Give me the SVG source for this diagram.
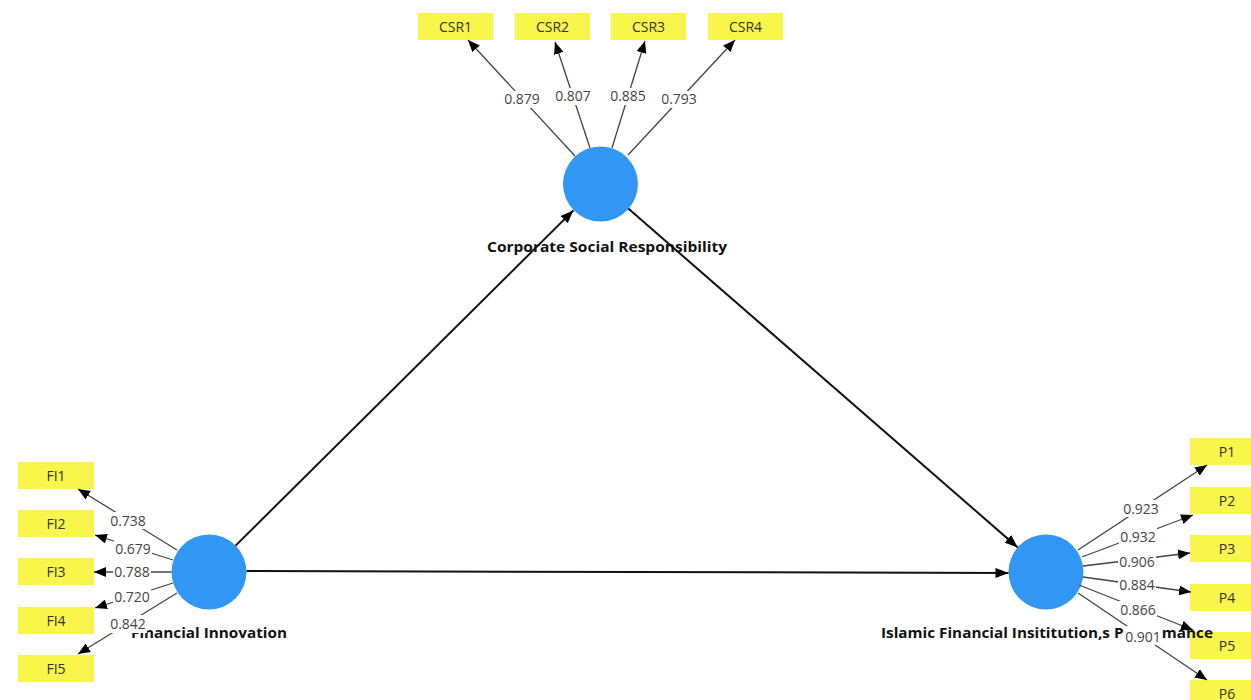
<svg xmlns="http://www.w3.org/2000/svg" width="1251" height="700" viewBox="0 0 1251 700">
<style>
  .lv { fill: #3296f5; }
  .ind rect { fill: #f8f54b; }
  .ind text { font-family: "Open Sans", "Liberation Sans", sans-serif; font-size: 14px; fill: #333; text-anchor: middle; }
  .nl { font-family: "Open Sans", "Liberation Sans", sans-serif; font-size: 15px; font-weight: bold; fill: #111; text-anchor: middle; }
  .ld { stroke: #444; stroke-width: 1.3; fill: none; marker-end: url(#ah); }
  .pa { stroke: #111; stroke-width: 2; fill: none; marker-end: url(#ahb); }
  .lb rect { fill: #fff; }
  .lb text { font-family: "Open Sans", "Liberation Sans", sans-serif; font-size: 14px; fill: #444; text-anchor: middle; }
</style>
<defs>
  <marker id="ah" viewBox="0 0 12 10" refX="12" refY="5" markerWidth="12" markerHeight="10" markerUnits="userSpaceOnUse" orient="auto">
    <path d="M0,0 L12,5 L0,10 z" fill="#000"/>
  </marker>
  <marker id="ahb" viewBox="0 0 13 10" refX="13" refY="5" markerWidth="13" markerHeight="10" markerUnits="userSpaceOnUse" orient="auto">
    <path d="M0,0 L13,5 L0,10 z" fill="#000"/>
  </marker>
</defs>
<rect width="1251" height="700" fill="#fff"/>

<!-- indicators -->
<g id="CSR1" class="ind"><rect x="418" y="13" width="75" height="27"/><text x="455.5" y="32">CSR1</text></g>
<g id="CSR2" class="ind"><rect x="515" y="13" width="75" height="27"/><text x="552.5" y="32">CSR2</text></g>
<g id="CSR3" class="ind"><rect x="611" y="13" width="75" height="27"/><text x="648.5" y="32">CSR3</text></g>
<g id="CSR4" class="ind"><rect x="708" y="13" width="75" height="27"/><text x="745.5" y="32">CSR4</text></g>

<g id="FI1" class="ind"><rect x="18" y="462" width="76" height="27"/><text x="56" y="481">FI1</text></g>
<g id="FI2" class="ind"><rect x="18" y="510" width="76" height="27"/><text x="56" y="529">FI2</text></g>
<g id="FI3" class="ind"><rect x="18" y="558" width="76" height="27"/><text x="56" y="577">FI3</text></g>
<g id="FI4" class="ind"><rect x="18" y="607" width="76" height="27"/><text x="56" y="626">FI4</text></g>
<g id="FI5" class="ind"><rect x="18" y="655" width="76" height="27"/><text x="56" y="674">FI5</text></g>

<g id="P1" class="ind"><rect x="1190" y="438" width="75" height="27"/><text x="1227" y="457">P1</text></g>
<g id="P2" class="ind"><rect x="1190" y="487" width="75" height="27"/><text x="1227" y="506">P2</text></g>
<g id="P3" class="ind"><rect x="1190" y="535" width="75" height="27"/><text x="1227" y="554">P3</text></g>
<g id="P4" class="ind"><rect x="1190" y="584" width="75" height="27"/><text x="1227" y="603">P4</text></g>
<g id="P5" class="ind"><rect x="1190" y="632" width="75" height="27"/><text x="1227" y="651">P5</text></g>
<g id="P6" class="ind"><rect x="1190" y="680" width="75" height="27"/><text x="1227" y="699">P6</text></g>

<!-- latent variables -->
<g id="CSR">
  <circle class="lv" cx="600.5" cy="184" r="37.5"/>
  <text class="nl" x="607" y="252" textLength="240" lengthAdjust="spacingAndGlyphs">Corporate Social Responsibility</text>
</g>
<g id="FI">
  <circle class="lv" cx="209" cy="572" r="37.5"/>
  <text class="nl" x="209" y="638" textLength="156" lengthAdjust="spacingAndGlyphs">Financial Innovation</text>
</g>
<g id="IFP">
  <circle class="lv" cx="1046" cy="572" r="37.5"/>
  <text class="nl" x="1047" y="638" textLength="332" lengthAdjust="spacingAndGlyphs">Islamic Financial Insititution,s Performance</text>
</g>

<!-- connectors -->
<g id="connectors">
  <line class="pa" x1="235.6" y1="545.6" x2="573.4" y2="210.4"/>
  <line class="pa" x1="628.3" y1="208.6" x2="1017.7" y2="547.4"/>
  <line class="pa" x1="246.5" y1="571" x2="1008.5" y2="573"/>

  <line class="ld" x1="575" y1="156" x2="468" y2="40"/>
  <line class="ld" x1="590" y1="148" x2="555" y2="42"/>
  <line class="ld" x1="612" y1="148" x2="645" y2="41"/>
  <line class="ld" x1="628" y1="155" x2="735" y2="40"/>

  <line class="ld" x1="177" y1="550" x2="78" y2="489"/>
  <line class="ld" x1="173" y1="560" x2="95" y2="535"/>
  <line class="ld" x1="171.5" y1="572" x2="94" y2="572"/>
  <line class="ld" x1="173" y1="583" x2="95" y2="608"/>
  <line class="ld" x1="177" y1="593" x2="78" y2="654"/>

  <line class="ld" x1="1078" y1="550" x2="1207" y2="465"/>
  <line class="ld" x1="1082" y1="557" x2="1193" y2="515"/>
  <line class="ld" x1="1083" y1="566" x2="1190" y2="553"/>
  <line class="ld" x1="1083" y1="577" x2="1191" y2="592"/>
  <line class="ld" x1="1079" y1="585" x2="1193" y2="630"/>
  <line class="ld" x1="1078" y1="593" x2="1207" y2="680"/>

  <g class="lb">
    <rect x="503" y="91" width="38" height="17"/><text x="522" y="104">0.879</text>
    <rect x="554" y="88" width="38" height="17"/><text x="573" y="101">0.807</text>
    <rect x="609" y="88" width="38" height="17"/><text x="628" y="101">0.885</text>
    <rect x="660" y="91" width="38" height="17"/><text x="679" y="104">0.793</text>

    <rect x="109" y="512" width="38" height="17"/><text x="128" y="526">0.738</text>
    <rect x="114" y="540" width="38" height="17"/><text x="133" y="554">0.679</text>
    <rect x="113" y="564" width="38" height="17"/><text x="132" y="577">0.788</text>
    <rect x="113" y="588" width="38" height="17"/><text x="132" y="602">0.720</text>
    <rect x="109" y="615" width="38" height="18"/><text x="128" y="629">0.842</text>

    <rect x="1122" y="500" width="38" height="17"/><text x="1141" y="514">0.923</text>
    <rect x="1119" y="528" width="38" height="17"/><text x="1138" y="542">0.932</text>
    <rect x="1118" y="553" width="38" height="17"/><text x="1137" y="567">0.906</text>
    <rect x="1118" y="576" width="38" height="17"/><text x="1137" y="590">0.884</text>
    <rect x="1119" y="601" width="38" height="17"/><text x="1138" y="615">0.866</text>
    <rect x="1124" y="626" width="38" height="19"/><text x="1143" y="642">0.901</text>
  </g>
</g>
</svg>
